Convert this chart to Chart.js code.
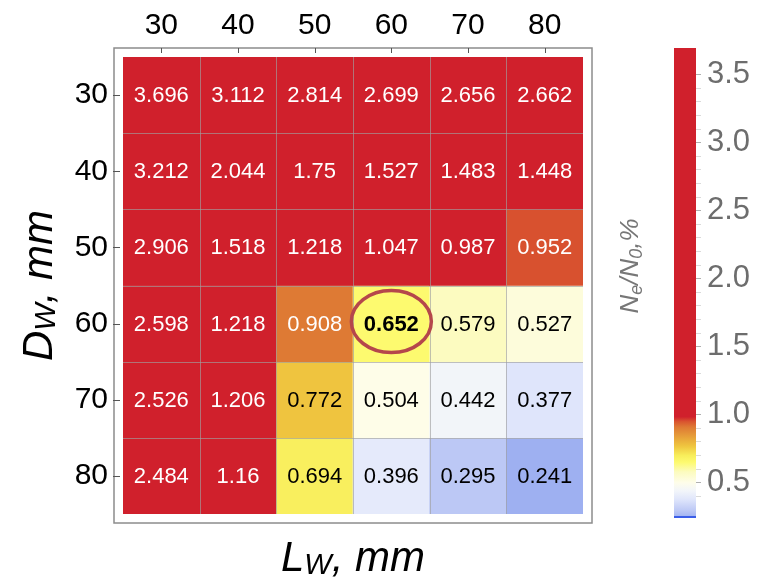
<!DOCTYPE html>
<html>
<head>
<meta charset="utf-8">
<script src="https://cdn.jsdelivr.net/npm/chart.js@4.4.1/dist/chart.umd.min.js"></script>
<style>
  html, body { margin: 0; padding: 0; background: #fff; }
  #wrap { position: relative; width: 769px; height: 579px; overflow: hidden; }
  #heat { position: absolute; left: 0; top: 0; }
  #bar { position: absolute; left: 600px; top: 0; }
</style>
</head>
<body>
<div id="wrap">
  <canvas id="heat" width="600" height="579"></canvas>
  <canvas id="bar" width="169" height="579"></canvas>
</div>
<script>
// Columns (L_W, mm) and rows (D_W, mm)
const L_VALUES = [30, 40, 50, 60, 70, 80];
const D_VALUES = [30, 40, 50, 60, 70, 80];

// Ne/N0, % for each row
const ROW_30 = [3.696, 3.112, 2.814, 2.699, 2.656, 2.662];
const ROW_40 = [3.212, 2.044, 1.75, 1.527, 1.483, 1.448];
const ROW_50 = [2.906, 1.518, 1.218, 1.047, 0.987, 0.952];
const ROW_60 = [2.598, 1.218, 0.908, 0.652, 0.579, 0.527];
const ROW_70 = [2.526, 1.206, 0.772, 0.504, 0.442, 0.377];
const ROW_80 = [2.484, 1.16, 0.694, 0.396, 0.295, 0.241];
const ROWS = [ROW_30, ROW_40, ROW_50, ROW_60, ROW_70, ROW_80];

// colour bar range
const CB_MIN = 0.241;
const CB_MAX = 3.696;

// highlighted cell
const HIGHLIGHT_L = 60;
const HIGHLIGHT_D = 60;

// colour map (value -> colour), red above ~1
const COLOR_STOPS = [
    [0.24, '#9db0f1'],
    [0.295, '#bcc8f5'],
    [0.38, '#e0e6fb'],
    [0.44, '#f2f5fa'],
    [0.50, '#fefdea'],
    [0.58, '#fcfbbf'],
    [0.65, '#fdfa70'],
    [0.70, '#f8ee5b'],
    [0.77, '#efc53f'],
    [0.91, '#de7934'],
    [0.95, '#d9542f'],
    [0.985, '#d0202c']
];

const FONT = "'Liberation Sans', Arial, sans-serif";
Chart.defaults.font.family = FONT;

function hexToRgb(h) {
    const n = parseInt(h.slice(1), 16);
    return [(n >> 16) & 255, (n >> 8) & 255, n & 255];
}

function colorFor(v) {
    if (v <= COLOR_STOPS[0][0]) return COLOR_STOPS[0][1];
    for (let i = 1; i < COLOR_STOPS.length; i++) {
        const [v1, c1] = COLOR_STOPS[i];
        if (v <= v1) {
            const [v0, c0] = COLOR_STOPS[i - 1];
            const t = (v - v0) / (v1 - v0);
            const a = hexToRgb(c0), b = hexToRgb(c1);
            const c = a.map((x, k) => Math.round(x + (b[k] - x) * t));
            return `rgb(${c[0]},${c[1]},${c[2]})`;
        }
    }
    return COLOR_STOPS[COLOR_STOPS.length - 1][1];
}

// draw text made of pieces (for subscripts), centred on x
function drawRich(ctx, parts, x, y) {
    let total = 0;
    parts.forEach(p => { ctx.font = p.font; total += ctx.measureText(p.text).width; });
    let cx = x - total / 2;
    ctx.textAlign = 'left';
    ctx.textBaseline = 'alphabetic';
    parts.forEach(p => {
        ctx.font = p.font;
        ctx.fillText(p.text, cx, y + (p.dy || 0));
        cx += ctx.measureText(p.text).width;
    });
}

// one dataset per row, floating bars span one row
const datasets = D_VALUES.map((d, r) => ({
    label: 'D=' + d,
    values: ROWS[r],
    data: L_VALUES.map(() => [d - 5, d + 5]),
    backgroundColor: ROWS[r].map(colorFor),
    borderWidth: 0
}));

const heatPlugin = {
    id: 'heatDecor',
    afterDatasetsDraw(chart) {
        const ctx = chart.ctx;
        const ca = chart.chartArea;
        const xs = chart.scales.x;
        const ys = chart.scales.y;
        ctx.save();

        // cell separators
        ctx.strokeStyle = 'rgba(160,160,160,0.65)';
        ctx.lineWidth = 1;
        ctx.beginPath();
        for (let i = 1; i < L_VALUES.length; i++) {
            const px = Math.round((xs.getPixelForValue(i - 1) + xs.getPixelForValue(i)) / 2) + 0.5;
            ctx.moveTo(px, ca.top);
            ctx.lineTo(px, ca.bottom);
        }
        for (let i = 1; i < D_VALUES.length; i++) {
            const py = Math.round(ys.getPixelForValue(D_VALUES[i] - 5)) + 0.5;
            ctx.moveTo(ca.left, py);
            ctx.lineTo(ca.right, py);
        }
        ctx.stroke();

        // values in cells
        ctx.textAlign = 'center';
        ctx.textBaseline = 'middle';
        chart.data.datasets.forEach((ds, di) => {
            const meta = chart.getDatasetMeta(di);
            meta.data.forEach((bar, i) => {
                const v = ds.values[i];
                const isHi = L_VALUES[i] === HIGHLIGHT_L && D_VALUES[di] === HIGHLIGHT_D;
                ctx.font = (isHi ? 'bold ' : '') + '22px ' + FONT;
                ctx.fillStyle = v > 0.85 ? '#ffffff' : '#000000';
                ctx.fillText(String(v), bar.x, (bar.y + bar.base) / 2 + 1);
            });
        });

        // highlight ring
        const hx = xs.getPixelForValue(L_VALUES.indexOf(HIGHLIGHT_L));
        const hy = ys.getPixelForValue(HIGHLIGHT_D);
        ctx.strokeStyle = '#b5474b';
        ctx.lineWidth = 3.5;
        ctx.beginPath();
        ctx.ellipse(hx, hy - 2, 40, 31, 0, 0, Math.PI * 2);
        ctx.stroke();

        // frame
        const pad = 9;
        ctx.strokeStyle = '#8c8c8c';
        ctx.lineWidth = 1.5;
        ctx.strokeRect(ca.left - pad, ca.top - pad, ca.right - ca.left + 2 * pad, ca.bottom - ca.top + 2 * pad);

        // tick marks
        ctx.strokeStyle = '#555';
        ctx.lineWidth = 1;
        ctx.beginPath();
        L_VALUES.forEach((l, i) => {
            const px = Math.round(xs.getPixelForValue(i)) + 0.5;
            ctx.moveTo(px, ca.top - pad);
            ctx.lineTo(px, ca.top - pad + 5);
        });
        D_VALUES.forEach(d => {
            const py = Math.round(ys.getPixelForValue(d)) + 0.5;
            ctx.moveTo(ca.left - pad - 1, py);
            ctx.lineTo(ca.left - pad + 6, py);
        });
        ctx.stroke();

        // axis titles
        ctx.fillStyle = '#000';
        drawRich(ctx, [
            { text: 'L', font: 'italic 42px ' + FONT },
            { text: 'W', font: 'italic 29px ' + FONT, dy: 3 },
            { text: ', mm', font: 'italic 42px ' + FONT }
        ], (ca.left + ca.right) / 2, ca.bottom + 57);

        ctx.save();
        ctx.translate(52, (ca.top + ca.bottom) / 2);
        ctx.rotate(-Math.PI / 2);
        drawRich(ctx, [
            { text: 'D', font: 'italic 42px ' + FONT },
            { text: 'W', font: 'italic 29px ' + FONT, dy: 3 },
            { text: ', mm', font: 'italic 42px ' + FONT }
        ], 0, 0);
        ctx.restore();

        ctx.restore();
    }
};

new Chart(document.getElementById('heat'), {
    type: 'bar',
    data: { labels: L_VALUES.map(String), datasets: datasets },
    options: {
        responsive: false,
        animation: false,
        layout: { padding: { left: 0, top: 0, right: 17, bottom: 65 } },
        plugins: { legend: { display: false }, tooltip: { enabled: false } },
        datasets: { bar: { grouped: false, categoryPercentage: 1, barPercentage: 1 } },
        scales: {
            x: {
                position: 'top',
                offset: true,
                grid: { display: false, drawTicks: false },
                border: { display: false },
                ticks: { font: { size: 30 }, color: '#000', padding: 13 },
                afterFit: s => { s.height = 57; }
            },
            y: {
                min: 25,
                max: 85,
                reverse: true,
                grid: { display: false, drawTicks: false },
                border: { display: false },
                ticks: { font: { size: 30 }, color: '#000', padding: 15 },
                afterBuildTicks: s => { s.ticks = D_VALUES.map(v => ({ value: v })); },
                afterFit: s => { s.width = 123; }
            }
        }
    },
    plugins: [heatPlugin]
});

// colour bar
const barPlugin = {
    id: 'colorBar',
    beforeDatasetsDraw(chart) {
        const ctx = chart.ctx;
        const ca = chart.chartArea;
        const ys = chart.scales.y;
        const pTop = ys.getPixelForValue(CB_MAX);
        const pBot = ys.getPixelForValue(CB_MIN);
        const g = ctx.createLinearGradient(0, pBot, 0, pTop);
        COLOR_STOPS.forEach(([v, c]) => {
            const t = (v - CB_MIN) / (CB_MAX - CB_MIN);
            if (t >= 0 && t <= 1) g.addColorStop(t, c);
        });
        g.addColorStop(0, COLOR_STOPS[0][1]);
        g.addColorStop(1, COLOR_STOPS[COLOR_STOPS.length - 1][1]);
        ctx.save();
        ctx.fillStyle = g;
        ctx.fillRect(ca.left, pTop, ca.right - ca.left, pBot - pTop);
        ctx.fillStyle = '#3b5ee8';
        ctx.fillRect(ca.left, pBot - 2, ca.right - ca.left, 2);

        // title
        ctx.fillStyle = '#777';
        ctx.translate(38, 266);
        ctx.rotate(-Math.PI / 2);
        drawRich(ctx, [
            { text: 'N', font: 'italic 26px ' + FONT },
            { text: 'e', font: 'italic 18px ' + FONT, dy: 4 },
            { text: '/N', font: 'italic 26px ' + FONT },
            { text: '0', font: 'italic 18px ' + FONT, dy: 4 },
            { text: ',%', font: 'italic 26px ' + FONT }
        ], 0, 0);
        ctx.restore();
    }
};

new Chart(document.getElementById('bar'), {
    type: 'bar',
    data: { labels: [''], datasets: [] },
    options: {
        responsive: false,
        animation: false,
        layout: { padding: { left: 74, top: 48, right: 0, bottom: 61 } },
        plugins: { legend: { display: false }, tooltip: { enabled: false } },
        scales: {
            x: { display: false },
            y: {
                position: 'right',
                min: CB_MIN,
                max: CB_MAX,
                grid: {
                    drawOnChartArea: false,
                    tickLength: 5,
                    tickColor: c => (Math.abs(c.tick.value * 2 - Math.round(c.tick.value * 2)) < 1e-6 ? '#b0b0b0' : '#dadada')
                },
                border: { display: false },
                ticks: {
                    stepSize: 0.1,
                    autoSkip: false,
                    padding: 6,
                    color: '#6d6d6d',
                    font: { size: 31 },
                    callback: v => (Math.abs(v * 2 - Math.round(v * 2)) < 1e-6 ? v.toFixed(1) : '')
                },
                afterBuildTicks: s => {
                    s.ticks = s.ticks.filter(t => Math.abs(t.value * 10 - Math.round(t.value * 10)) < 1e-6);
                },
                afterFit: s => { s.width = 73; }
            }
        }
    },
    plugins: [barPlugin]
});
</script>
</body>
</html>
